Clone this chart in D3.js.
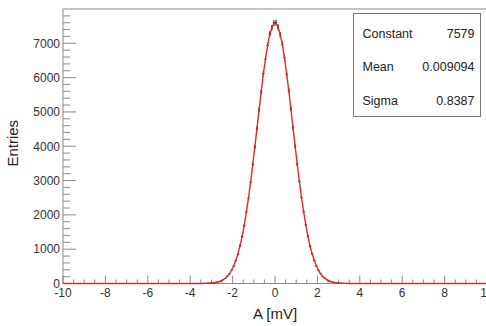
<!DOCTYPE html>
<html>
<head>
<meta charset="utf-8">
<script src="https://cdn.jsdelivr.net/npm/d3@7"></script>
<style>
  body { margin: 0; background: #fff; }
  text { font-family: "Liberation Sans", Arial, sans-serif; }
</style>
</head>
<body>
<div class="chart_hist"></div>
<script>
// histogram bins (width 0.1), centers from -3.95 to 3.95
var binCenters = d3.range(-3.95, 4.0, 0.1).map(function(d) { return Math.round(d * 100) / 100; });
var entries = [
  0, 0, 1, 0, 1, 2, 3, 4, 7, 9,
  16, 22, 36, 50, 74, 109, 147, 211, 280, 385,
  503, 671, 852, 1101, 1366, 1690, 2085, 2481, 2952, 3470,
  3975, 4521, 5064, 5590, 6120, 6540, 6935, 7262, 7448, 7590,
  7602, 7470, 7240, 6968, 6580, 6105, 5630, 5095, 4540, 3996,
  3475, 2970, 2503, 2090, 1712, 1380, 1090, 866, 672, 512,
  385, 288, 205, 152, 108, 77, 51, 36, 24, 15,
  11, 6, 4, 3, 1, 1, 0, 0, 0, 0
];
var xTicks = [-10, -8, -6, -4, -2, 0, 2, 4, 6, 8, 10];
var yTicks = [0, 1000, 2000, 3000, 4000, 5000, 6000, 7000];
var statNames = ["Constant", "Mean", "Sigma"];
var statValues = ["7579", "0.009094", "0.8387"];

var width = 486, height = 326;
var margin = {top: 9, right: -1, bottom: 42.5, left: 63};
var w = width - margin.left - margin.right,
    h = height - margin.top - margin.bottom;

var svg = d3.select('.chart_hist').append("svg")
  .attr("width", width)
  .attr("height", height)
  .append("g")
  .attr("transform", "translate(" + margin.left + "," + margin.top + ")");

var x = d3.scaleLinear().domain([-10, 10]).range([0, w]);
var y = d3.scaleLinear().domain([0, 8000]).range([h, 0]);

var axisCol = "#8a8a8a";

// frame
svg.append("rect")
  .attr("x", 0).attr("y", 0)
  .attr("width", w).attr("height", h)
  .attr("fill", "none")
  .attr("stroke", axisCol)
  .attr("stroke-width", 1);

// Y axis: major + minor ticks
svg.append("g")
  .selectAll("line")
  .data(d3.range(0, 8000, 200))
  .enter().append("line")
  .attr("x1", 0)
  .attr("x2", function(d) { return d % 1000 === 0 ? 13 : 7; })
  .attr("y1", function(d) { return y(d); })
  .attr("y2", function(d) { return y(d); })
  .attr("stroke", axisCol);

svg.append("g")
  .selectAll("text")
  .data(yTicks)
  .enter().append("text")
  .attr("x", -3)
  .attr("y", function(d) { return y(d) + 4.3; })
  .attr("text-anchor", "end")
  .attr("font-size", 12)
  .attr("fill", "#333")
  .text(function(d) { return d; });

// X axis: major + minor ticks
svg.append("g")
  .selectAll("line")
  .data(d3.range(-10, 10.01, 0.5))
  .enter().append("line")
  .attr("x1", function(d) { return x(d); })
  .attr("x2", function(d) { return x(d); })
  .attr("y1", h)
  .attr("y2", function(d) { return Math.abs(d % 2) < 1e-9 ? h - 8 : h - 4; })
  .attr("stroke", axisCol);

svg.append("g")
  .selectAll("text")
  .data(xTicks)
  .enter().append("text")
  .attr("x", function(d) { return x(d); })
  .attr("y", h + 13)
  .attr("text-anchor", "middle")
  .attr("font-size", 12)
  .attr("fill", "#333")
  .text(function(d) { return d; });

// axis titles
svg.append("text")
  .attr("transform", "translate(-45," + (h / 2 - 3) + ") rotate(-90)")
  .attr("text-anchor", "middle")
  .attr("font-size", 15)
  .attr("fill", "#222")
  .text("Entries");

svg.append("text")
  .attr("x", x(0))
  .attr("y", h + 35)
  .attr("text-anchor", "middle")
  .attr("font-size", 15)
  .attr("fill", "#222")
  .text("A [mV]");

// histogram error bars
var bins = binCenters.map(function(c, i) { return {c: c, v: entries[i]}; });
var hist = svg.append("g").attr("stroke", "#111").attr("stroke-width", 1);
bins.forEach(function(b) {
  var e = Math.sqrt(b.v);
  hist.append("line")
    .attr("x1", x(b.c)).attr("x2", x(b.c))
    .attr("y1", y(b.v - e)).attr("y2", y(b.v + e));
  hist.append("line")
    .attr("x1", x(b.c - 0.05)).attr("x2", x(b.c + 0.05))
    .attr("y1", y(b.v)).attr("y2", y(b.v));
});

// fit line through bins
var fitPts = [{c: -10, v: 0}].concat(bins).concat([{c: 10, v: 0}]);
var fitLine = d3.line()
  .x(function(d) { return x(d.c); })
  .y(function(d) { return y(d.v); })
  .curve(d3.curveBasis);

svg.append("path")
  .datum(fitPts)
  .attr("fill", "none")
  .attr("stroke", "#e8262a")
  .attr("stroke-width", 1.4)
  .attr("d", fitLine);

// stats box
var box = svg.append("g").attr("transform", "translate(" + (353.5 - margin.left) + "," + (13.5 - margin.top) + ")");
box.append("rect")
  .attr("width", 127).attr("height", 103)
  .attr("fill", "#fff")
  .attr("stroke", "#777");
statNames.forEach(function(n, i) {
  box.append("text")
    .attr("x", 9).attr("y", 24 + i * 33.5)
    .attr("font-size", 12.5).attr("fill", "#222")
    .text(n);
  box.append("text")
    .attr("x", 121).attr("y", 24 + i * 33.5)
    .attr("text-anchor", "end")
    .attr("font-size", 12.5).attr("fill", "#222")
    .text(statValues[i]);
});
</script>
</body>
</html>
